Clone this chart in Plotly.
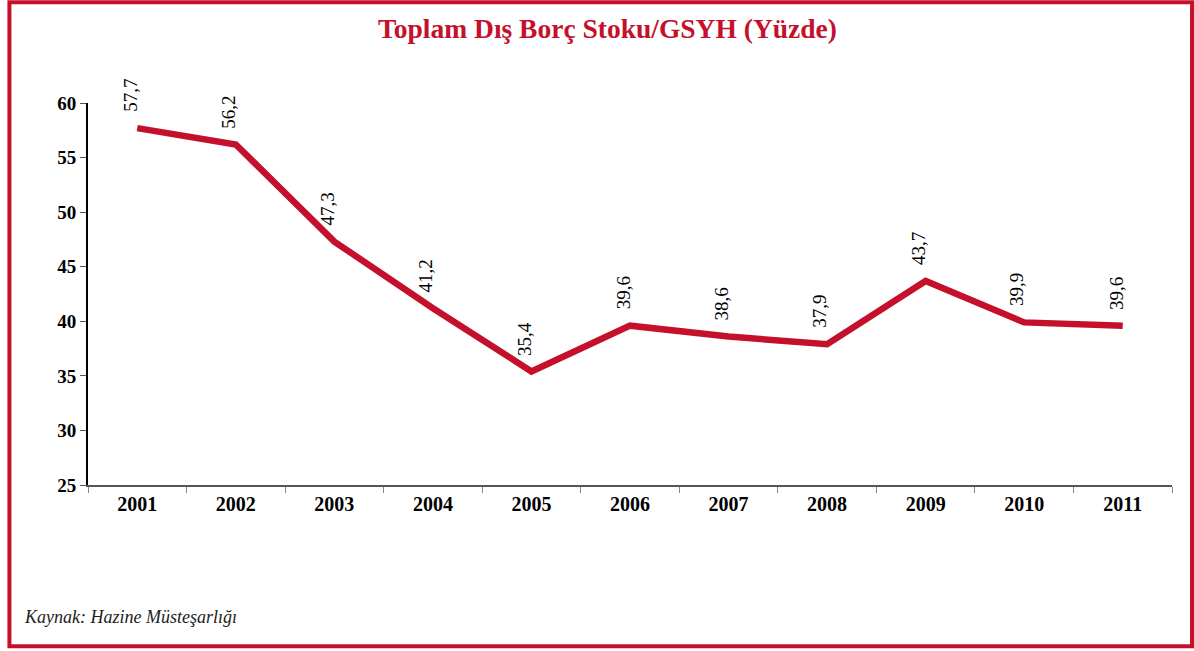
import plotly.graph_objects as go

years = ["2001", "2002", "2003", "2004", "2005", "2006", "2007", "2008", "2009", "2010", "2011"]
values = [57.7, 56.2, 47.3, 41.2, 35.4, 39.6, 38.6, 37.9, 43.7, 39.9, 39.6]
y_ticks = [25, 30, 35, 40, 45, 50, 55, 60]

RED = "#C5102B"
SERIF = "Liberation Serif, Times New Roman, serif"

fig = go.Figure()
fig.add_trace(go.Scatter(
    x=years, y=values, mode="lines",
    line=dict(color=RED, width=6.5),
    hoverinfo="skip", showlegend=False,
))

for i, v in enumerate(values):
    fig.add_annotation(
        x=i, y=v, xref="x", yref="y",
        text=f"{v:.1f}".replace(".", ","),
        textangle=-90, showarrow=False,
        yanchor="bottom", xanchor="center",
        yshift=14, xshift=-7,
        font=dict(family=SERIF, size=19, color="black"),
    )

fig.add_annotation(
    text="Toplam Dış Borç Stoku/GSYH (Yüzde)",
    xref="paper", yref="paper", x=0.479, y=1.195,
    xanchor="center", yanchor="middle", showarrow=False,
    font=dict(family=SERIF, size=27.5, color=RED, weight="bold"),
)

fig.add_annotation(
    text="<i>Kaynak: Hazine Müsteşarlığı</i>",
    xref="paper", yref="paper", x=-0.061, y=-0.345,
    xanchor="left", yanchor="middle", showarrow=False,
    font=dict(family=SERIF, size=18, color="#222222"),
)

fig.add_shape(
    type="rect", xref="paper", yref="paper",
    x0=-0.0725, x1=1.0185, y0=-0.422, y1=1.264,
    line=dict(color=RED, width=4), fillcolor="rgba(0,0,0,0)",
    layer="below",
)

fig.update_layout(
    width=1194, height=651,
    margin=dict(l=88, r=22, t=103, b=166),
    paper_bgcolor="white", plot_bgcolor="white",
    font=dict(family=SERIF, color="black"),
    xaxis=dict(
        type="category", range=[-0.5, 10.5],
        showgrid=False, showline=True, linecolor="#555555", linewidth=2,
        ticks="outside", ticklen=6, tickcolor="#888888",
        tickson="boundaries",
        tickfont=dict(family=SERIF, size=20, color="black", weight="bold"),
        fixedrange=True,
    ),
    yaxis=dict(
        range=[25, 60], tickvals=y_ticks,
        showgrid=False, showline=True, linecolor="black", linewidth=2,
        ticks="outside", ticklen=6, tickcolor="#555555",
        tickfont=dict(family=SERIF, size=19, color="black", weight="bold"),
        zeroline=False, fixedrange=True,
    ),
)

fig.write_html(
    "out.html",
    config={"displayModeBar": False},
    post_script="document.body.style.margin='0';document.body.style.overflow='hidden';",
)
